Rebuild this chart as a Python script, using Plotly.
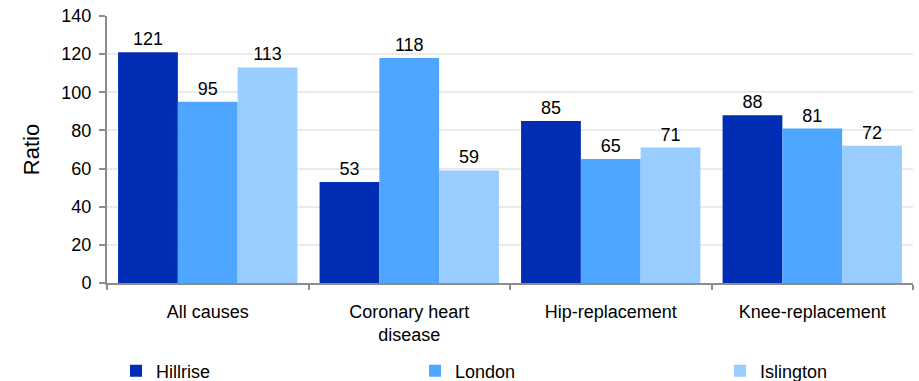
import plotly.graph_objects as go

categories = ["All causes", "Coronary heart<br>disease", "Hip-replacement", "Knee-replacement"]
series_names = ["Hillrise", "London", "Islington"]
hillrise = [121, 53, 85, 88]
london = [95, 118, 65, 81]
islington = [113, 59, 71, 72]
colors = ["#002DB3", "#4DA6FF", "#99CCFF"]
y_ticks = [0, 20, 40, 60, 80, 100, 120, 140]

legend_ids = ["legend", "legend2", "legend3"]
legend_x_px = [116, 415, 720]

fig = go.Figure()
for name, vals, col, lid in zip(series_names, [hillrise, london, islington], colors, legend_ids):
    fig.add_trace(go.Bar(
        x=categories, y=vals, name=name, marker_color=col, marker_line_width=0,
        text=[str(v) for v in vals], textposition="outside", cliponaxis=False,
        textfont=dict(color="#000000", size=18), legend=lid,
    ))

legend_common = dict(orientation="h", xref="container", yref="container",
                     y=1 - 371 / 381, yanchor="middle", xanchor="left",
                     font=dict(size=18), bgcolor="rgba(0,0,0,0)")
layout_legends = {}
for lid, xp in zip(legend_ids, legend_x_px):
    layout_legends[lid] = dict(legend_common, x=xp / 919)

fig.update_layout(
    width=919, height=381,
    margin=dict(l=107, r=6, t=16, b=98, autoexpand=False),
    paper_bgcolor="white", plot_bgcolor="white",
    font=dict(family="Liberation Sans, Arial, sans-serif", size=18, color="#000000"),
    barmode="group", bargap=0.11, bargroupgap=0,
    showlegend=True,
    xaxis=dict(showline=True, linecolor="#8C8C8C", linewidth=2, ticks="outside",
               tickson="boundaries", ticklen=5, tickcolor="#8C8C8C", tickwidth=2,
               ticklabelstandoff=11, showgrid=False, automargin=False),
    yaxis=dict(title=dict(text="Ratio", standoff=16), range=[0, 140], tickvals=y_ticks,
               showline=True, linecolor="#8C8C8C", linewidth=2, ticks="outside",
               ticklen=6, tickcolor="#8C8C8C", tickwidth=2, ticklabelstandoff=4,
               showgrid=True, gridcolor="#EBEBEB", gridwidth=2, zeroline=False,
               automargin=False),
    **layout_legends,
)
fig.write_html(
    "out.html",
    config={"displayModeBar": False},
    post_script="document.body.style.margin='0';document.body.style.overflow='hidden';",
)
